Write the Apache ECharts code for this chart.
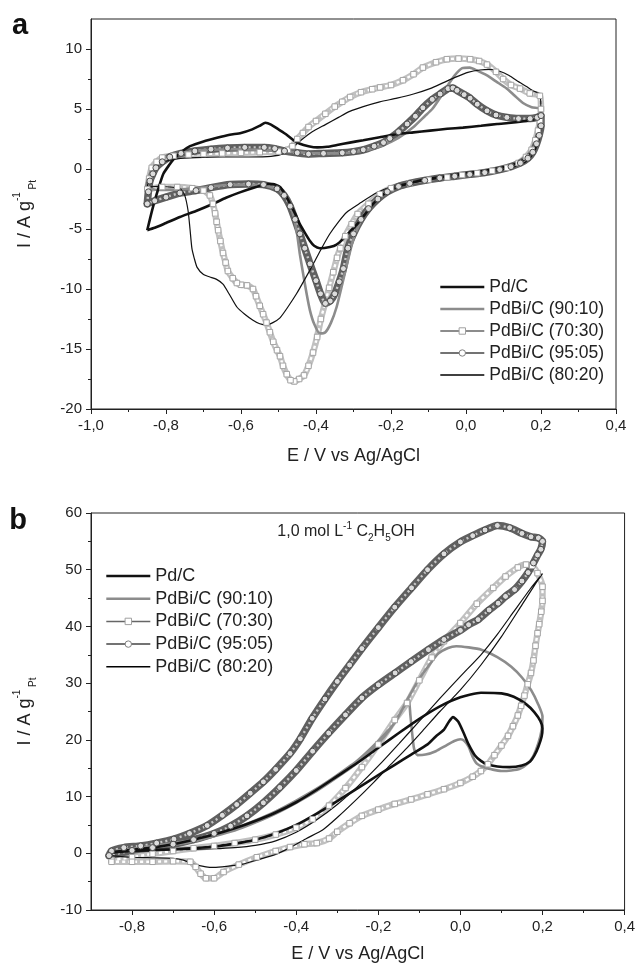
<!DOCTYPE html>
<html><head><meta charset="utf-8">
<script src="https://cdn.jsdelivr.net/npm/echarts@6/dist/echarts.min.js"></script>
<style>html,body{margin:0;padding:0;background:#fff}#c{width:638px;height:965px}</style>
</head><body><div id="c"></div>
<script>
const FONT = "'Liberation Sans', Arial, Helvetica, sans-serif";
const NAMES = ['Pd/C', 'PdBi/C (90:10)', 'PdBi/C (70:30)', 'PdBi/C (95:05)', 'PdBi/C (80:20)'];

// tick values
const A_X_MAJOR = [-1.0, -0.8, -0.6, -0.4, -0.2, 0.0, 0.2, 0.4];
const A_X_MINOR = [-0.9, -0.7, -0.5, -0.3, -0.1, 0.1, 0.3];
const A_Y_MAJOR = [-20, -15, -10, -5, 0, 5, 10];
const A_Y_MINOR = [-17.5, -12.5, -7.5, -2.5, 2.5, 7.5];
const B_X_MAJOR = [-0.8, -0.6, -0.4, -0.2, 0.0, 0.2, 0.4];
const B_X_MINOR = [-0.7, -0.5, -0.3, -0.1, 0.1, 0.3];
const B_Y_MAJOR = [-10, 0, 10, 20, 30, 40, 50, 60];
const B_Y_MINOR = [-5, 5, 15, 25, 35, 45, 55];

// ---------- panel a : [E (V), I (A/g)] ----------
const A_PDC = [[-0.85,-5.1],[-0.835,-3.2],[-0.82,-1.6],[-0.807,-0.4],[-0.79,0.4],[-0.78,0.8],[-0.76,1.4],[-0.736,1.9],[-0.7,2.3],[-0.664,2.6],[-0.63,2.85],[-0.6,3.0],[-0.57,3.3],[-0.55,3.6],[-0.535,3.85],[-0.52,3.7],[-0.5,3.3],[-0.48,2.9],[-0.46,2.4],[-0.443,2.1],[-0.42,1.9],[-0.397,1.8],[-0.37,1.85],[-0.344,2.0],[-0.31,2.2],[-0.274,2.4],[-0.23,2.65],[-0.184,2.9],[-0.14,3.05],[-0.096,3.2],[-0.05,3.35],[-0.008,3.45],[0.04,3.6],[0.083,3.75],[0.12,3.85],[0.16,4.0],[0.19,4.2],[0.2,4.4],
 [0.197,3.0],[0.19,2.2],[0.18,1.6],[0.16,0.9],[0.144,0.6],[0.12,0.3],[0.083,0.05],[0.04,-0.2],[-0.008,-0.4],[-0.05,-0.6],[-0.096,-0.8],[-0.14,-1.1],[-0.184,-1.5],[-0.22,-2.1],[-0.248,-2.9],[-0.27,-3.8],[-0.29,-4.6],[-0.309,-5.2],[-0.327,-5.8],[-0.345,-6.3],[-0.363,-6.5],[-0.39,-6.6],[-0.405,-6.4],[-0.416,-6.0],[-0.43,-5.3],[-0.443,-4.6],[-0.456,-3.7],[-0.469,-2.9],[-0.483,-2.1],[-0.496,-1.5],[-0.515,-1.25],[-0.532,-1.25],[-0.56,-1.5],[-0.603,-1.95],[-0.64,-2.4],[-0.674,-2.9],[-0.72,-3.5],[-0.763,-4.0],[-0.8,-4.5],[-0.83,-4.9],[-0.85,-5.1]];

const A_9010 = [[-0.85,-1.6],[-0.845,-0.6],[-0.835,0.2],[-0.82,0.7],[-0.8,1.0],[-0.76,1.3],[-0.72,1.5],[-0.68,1.6],[-0.62,1.65],[-0.56,1.6],[-0.5,1.5],[-0.45,1.4],[-0.4,1.3],[-0.35,1.3],[-0.3,1.4],[-0.26,1.6],[-0.22,2.0],[-0.18,2.6],[-0.14,3.5],[-0.11,4.4],[-0.09,5.0],[-0.07,5.9],[-0.05,6.9],[-0.03,7.8],[-0.01,8.4],[0.01,8.45],[0.03,8.2],[0.056,7.8],[0.08,7.3],[0.109,6.7],[0.13,6.1],[0.152,5.5],[0.175,5.15],[0.2,5.0],
 [0.2,4.0],[0.195,3.0],[0.185,2.0],[0.17,1.2],[0.15,0.6],[0.12,0.25],[0.08,0.0],[0.04,-0.2],[0.0,-0.45],[-0.05,-0.65],[-0.1,-0.9],[-0.15,-1.2],[-0.2,-1.7],[-0.235,-2.4],[-0.26,-3.2],[-0.28,-4.3],[-0.3,-5.8],[-0.318,-8.0],[-0.33,-9.6],[-0.345,-11.5],[-0.36,-12.8],[-0.375,-13.6],[-0.39,-13.7],[-0.405,-12.9],[-0.416,-11.8],[-0.425,-10.4],[-0.435,-8.6],[-0.443,-7.1],[-0.451,-5.3],[-0.46,-3.9],[-0.475,-2.6],[-0.5,-1.75],[-0.54,-1.35],[-0.6,-1.3],[-0.65,-1.35],[-0.7,-1.55],[-0.76,-1.7],[-0.82,-1.75],[-0.85,-1.6]];

const A_7030 = [[-0.85,-1.7],[-0.845,-0.8],[-0.838,0.1],[-0.825,0.6],[-0.81,0.95],[-0.78,1.1],[-0.74,1.2],[-0.7,1.25],[-0.65,1.3],[-0.6,1.35],[-0.55,1.4],[-0.5,1.45],[-0.475,1.6],[-0.463,1.9],[-0.45,2.5],[-0.435,3.0],[-0.42,3.5],[-0.4,4.0],[-0.375,4.6],[-0.35,5.2],[-0.33,5.6],[-0.309,6.0],[-0.28,6.4],[-0.25,6.65],[-0.229,6.8],[-0.2,7.0],[-0.168,7.4],[-0.14,7.9],[-0.115,8.45],[-0.08,8.9],[-0.051,9.15],[-0.02,9.2],[0.011,9.15],[0.035,9.0],[0.056,8.7],[0.08,8.1],[0.099,7.5],[0.12,7.0],[0.144,6.7],[0.17,6.3],[0.197,6.1],
 [0.2,5.0],[0.197,4.0],[0.192,3.2],[0.185,2.4],[0.175,1.6],[0.16,1.0],[0.14,0.5],[0.11,0.1],[0.07,-0.15],[0.03,-0.35],[-0.01,-0.5],[-0.05,-0.7],[-0.1,-0.9],[-0.15,-1.2],[-0.2,-1.6],[-0.23,-2.1],[-0.26,-2.9],[-0.289,-3.75],[-0.305,-4.6],[-0.322,-5.6],[-0.335,-6.6],[-0.344,-7.4],[-0.354,-8.6],[-0.365,-9.9],[-0.376,-11.2],[-0.387,-12.5],[-0.397,-14.0],[-0.408,-15.3],[-0.42,-16.4],[-0.432,-17.2],[-0.445,-17.5],[-0.458,-17.7],[-0.468,-17.6],[-0.478,-17.1],[-0.488,-16.4],[-0.496,-15.6],[-0.504,-15.1],[-0.514,-14.4],[-0.523,-13.6],[-0.532,-12.8],[-0.541,-12.1],[-0.55,-11.4],[-0.56,-10.6],[-0.568,-10.0],[-0.584,-9.7],[-0.6,-9.65],[-0.611,-9.5],[-0.622,-9.1],[-0.635,-8.5],[-0.641,-7.8],[-0.648,-7.0],[-0.655,-6.0],[-0.661,-5.1],[-0.665,-4.4],[-0.669,-3.7],[-0.675,-2.9],[-0.683,-2.2],[-0.7,-1.8],[-0.73,-1.6],[-0.77,-1.5],[-0.81,-1.5],[-0.85,-1.7]];

const A_9505 = [[-0.85,-2.9],[-0.847,-1.9],[-0.843,-1.0],[-0.835,-0.4],[-0.827,0.1],[-0.81,0.6],[-0.79,1.0],[-0.76,1.3],[-0.723,1.5],[-0.68,1.65],[-0.636,1.75],[-0.59,1.8],[-0.538,1.8],[-0.51,1.7],[-0.484,1.5],[-0.45,1.35],[-0.42,1.25],[-0.38,1.3],[-0.33,1.35],[-0.3,1.45],[-0.274,1.6],[-0.245,1.9],[-0.22,2.2],[-0.203,2.55],[-0.18,3.1],[-0.157,3.75],[-0.135,4.4],[-0.115,5.1],[-0.09,5.8],[-0.069,6.25],[-0.048,6.7],[-0.035,6.75],[-0.024,6.55],[-0.005,6.2],[0.011,5.9],[0.03,5.4],[0.056,4.85],[0.08,4.5],[0.109,4.3],[0.14,4.2],[0.171,4.2],[0.19,4.3],[0.2,4.45],
 [0.2,3.6],[0.195,2.8],[0.188,2.1],[0.178,1.4],[0.165,0.9],[0.145,0.5],[0.12,0.2],[0.09,-0.05],[0.05,-0.3],[0.01,-0.45],[-0.03,-0.6],[-0.07,-0.75],[-0.11,-0.95],[-0.15,-1.2],[-0.18,-1.45],[-0.21,-1.9],[-0.235,-2.5],[-0.26,-3.3],[-0.28,-4.2],[-0.3,-5.4],[-0.315,-6.6],[-0.327,-8.3],[-0.338,-9.4],[-0.35,-10.4],[-0.362,-11.0],[-0.375,-11.2],[-0.388,-10.4],[-0.4,-9.3],[-0.416,-7.9],[-0.43,-6.6],[-0.443,-5.4],[-0.456,-4.2],[-0.469,-3.1],[-0.485,-2.2],[-0.504,-1.65],[-0.54,-1.3],[-0.58,-1.25],[-0.629,-1.3],[-0.68,-1.55],[-0.72,-1.8],[-0.763,-2.0],[-0.8,-2.35],[-0.83,-2.65],[-0.85,-2.9]];

const A_8020 = [[-0.85,-1.5],[-0.845,-0.8],[-0.835,-0.2],[-0.82,0.3],[-0.8,0.65],[-0.77,0.85],[-0.72,0.95],[-0.65,1.0],[-0.58,1.0],[-0.52,1.05],[-0.485,1.3],[-0.463,1.8],[-0.44,2.4],[-0.41,3.1],[-0.375,3.7],[-0.34,4.3],[-0.31,4.8],[-0.274,5.2],[-0.23,5.6],[-0.184,5.9],[-0.14,6.25],[-0.096,6.7],[-0.06,7.2],[-0.024,7.7],[0.005,8.05],[0.037,8.25],[0.065,8.3],[0.09,8.15],[0.115,7.8],[0.136,7.35],[0.16,6.9],[0.18,6.5],[0.197,6.25],
 [0.2,4.5],[0.197,3.0],[0.19,2.0],[0.178,1.2],[0.16,0.6],[0.13,0.2],[0.09,-0.1],[0.05,-0.3],[0.0,-0.5],[-0.05,-0.7],[-0.1,-0.9],[-0.15,-1.15],[-0.2,-1.5],[-0.24,-2.0],[-0.28,-2.8],[-0.318,-3.6],[-0.34,-4.4],[-0.363,-5.4],[-0.385,-6.6],[-0.407,-7.9],[-0.43,-9.2],[-0.452,-10.4],[-0.475,-11.5],[-0.496,-12.4],[-0.515,-12.8],[-0.532,-13.0],[-0.55,-12.9],[-0.568,-12.6],[-0.59,-12.1],[-0.611,-11.5],[-0.63,-10.5],[-0.648,-9.6],[-0.665,-9.2],[-0.683,-9.0],[-0.7,-8.8],[-0.717,-8.2],[-0.725,-7.4],[-0.731,-6.6],[-0.736,-5.0],[-0.741,-3.5],[-0.75,-2.2],[-0.763,-1.6],[-0.79,-1.5],[-0.82,-1.45],[-0.85,-1.5]];

// ---------- panel b : 1,0 mol/L ethanol ----------
const B_PDC = [[-0.85,0.2],[-0.8,0.6],[-0.75,1.0],[-0.7,1.6],[-0.65,2.4],[-0.6,3.3],[-0.55,4.4],[-0.5,5.7],[-0.45,7.2],[-0.4,9.0],[-0.35,11.2],[-0.3,13.6],[-0.25,16.0],[-0.2,18.6],[-0.15,21.2],[-0.1,23.7],[-0.05,25.9],[0.0,27.5],[0.05,28.3],[0.1,28.2],[0.13,27.6],[0.16,26.3],[0.18,24.9],[0.195,23.3],[0.2,22.0],
 [0.198,20.6],[0.19,18.8],[0.18,17.2],[0.17,16.2],[0.15,15.5],[0.12,15.2],[0.09,15.3],[0.065,15.7],[0.05,16.3],[0.035,17.3],[0.02,19.2],[0.008,21.2],[-0.005,23.2],[-0.018,24.0],[-0.028,23.2],[-0.04,21.8],[-0.06,20.6],[-0.08,19.2],[-0.12,17.4],[-0.16,15.6],[-0.2,13.8],[-0.25,11.5],[-0.3,9.2],[-0.35,7.0],[-0.4,5.0],[-0.45,3.5],[-0.5,2.4],[-0.55,1.7],[-0.6,1.2],[-0.7,0.7],[-0.8,0.4],[-0.85,0.1]];

const B_9010 = [[-0.85,0.3],[-0.8,0.8],[-0.75,1.3],[-0.7,1.8],[-0.65,2.4],[-0.6,3.3],[-0.55,4.4],[-0.5,5.8],[-0.45,7.4],[-0.4,9.3],[-0.35,11.4],[-0.3,13.8],[-0.25,16.4],[-0.2,19.8],[-0.16,23.0],[-0.127,27.4],[-0.1,30.8],[-0.08,32.8],[-0.054,35.2],[-0.03,36.2],[-0.01,36.5],[0.02,36.3],[0.051,35.9],[0.09,34.6],[0.124,32.9],[0.15,31.0],[0.172,28.8],[0.19,26.2],[0.2,24.1],
 [0.198,21.8],[0.19,19.4],[0.178,17.2],[0.164,15.8],[0.145,14.9],[0.124,14.6],[0.1,14.5],[0.076,14.8],[0.055,15.2],[0.04,15.8],[0.03,17.0],[0.02,18.8],[0.01,19.8],[0.0,20.1],[-0.015,19.8],[-0.035,19.0],[-0.06,18.0],[-0.085,17.4],[-0.105,17.3],[-0.113,18.5],[-0.118,21.5],[-0.122,24.5],[-0.126,27.2],[-0.14,25.5],[-0.17,22.0],[-0.2,19.4],[-0.25,16.0],[-0.3,13.4],[-0.35,11.0],[-0.4,8.9],[-0.45,7.0],[-0.5,5.4],[-0.55,4.0],[-0.6,3.0],[-0.65,2.1],[-0.7,1.5],[-0.75,1.0],[-0.8,0.5],[-0.85,0.1]];

const B_7030 = [[-0.85,-1.2],[-0.8,-0.7],[-0.75,-0.1],[-0.7,0.4],[-0.65,0.9],[-0.6,1.3],[-0.55,1.8],[-0.5,2.4],[-0.45,3.3],[-0.4,4.5],[-0.36,6.0],[-0.32,8.4],[-0.28,11.5],[-0.24,15.2],[-0.2,19.2],[-0.16,23.5],[-0.13,26.5],[-0.1,30.5],[-0.07,34.5],[-0.04,37.4],[0.0,40.6],[0.04,44.0],[0.08,46.8],[0.11,48.8],[0.14,50.4],[0.16,50.9],[0.175,50.7],[0.188,49.4],[0.2,47.0],
 [0.2,44.5],[0.197,42.6],[0.192,40.4],[0.188,38.8],[0.183,36.6],[0.178,34.0],[0.172,31.8],[0.164,29.8],[0.156,27.8],[0.148,26.0],[0.14,24.3],[0.128,22.4],[0.116,20.7],[0.1,19.0],[0.083,17.3],[0.067,15.7],[0.05,14.5],[0.03,13.5],[0.0,12.4],[-0.04,11.3],[-0.08,10.4],[-0.12,9.5],[-0.16,8.7],[-0.2,7.7],[-0.24,6.6],[-0.27,5.3],[-0.3,3.8],[-0.32,2.6],[-0.35,1.8],[-0.38,1.6],[-0.415,1.1],[-0.45,0.4],[-0.496,-0.7],[-0.54,-2.0],[-0.577,-3.3],[-0.6,-4.4],[-0.62,-4.4],[-0.633,-3.6],[-0.645,-2.4],[-0.658,-1.5],[-0.7,-1.4],[-0.75,-1.5],[-0.8,-1.5],[-0.85,-1.5]];

const B_9505 = [[-0.856,-0.4],[-0.85,0.4],[-0.82,1.0],[-0.779,1.3],[-0.74,1.8],[-0.698,2.5],[-0.66,3.5],[-0.617,4.9],[-0.58,6.7],[-0.545,8.6],[-0.512,10.6],[-0.48,12.6],[-0.45,14.8],[-0.415,17.6],[-0.39,20.2],[-0.361,23.8],[-0.33,27.2],[-0.3,30.3],[-0.27,33.2],[-0.24,36.1],[-0.2,39.8],[-0.16,43.4],[-0.119,46.8],[-0.08,50.0],[-0.04,52.8],[0.0,54.9],[0.03,56.0],[0.06,57.0],[0.09,57.8],[0.12,57.4],[0.15,56.4],[0.172,55.8],[0.19,55.6],[0.2,55.0],
 [0.196,53.6],[0.188,52.6],[0.178,51.2],[0.165,49.5],[0.15,48.0],[0.132,46.5],[0.11,45.3],[0.092,44.1],[0.07,42.9],[0.043,41.2],[0.02,40.3],[0.0,39.3],[-0.04,37.7],[-0.078,35.9],[-0.12,33.8],[-0.159,31.8],[-0.2,29.7],[-0.24,27.4],[-0.28,24.4],[-0.321,21.2],[-0.36,18.0],[-0.4,14.6],[-0.44,11.6],[-0.48,8.9],[-0.52,6.6],[-0.56,4.8],[-0.6,3.5],[-0.65,2.4],[-0.7,1.6],[-0.75,1.0],[-0.8,0.5],[-0.856,-0.4]];

const B_8020 = [[-0.85,-0.4],[-0.8,-0.7],[-0.75,-0.8],[-0.7,-0.9],[-0.675,-1.2],[-0.65,-1.9],[-0.62,-2.4],[-0.6,-2.5],[-0.57,-2.3],[-0.53,-1.9],[-0.496,-1.2],[-0.45,-0.2],[-0.415,1.0],[-0.375,2.6],[-0.334,4.2],[-0.3,6.3],[-0.253,9.5],[-0.21,12.6],[-0.173,15.4],[-0.13,18.6],[-0.092,21.6],[-0.05,25.0],[0.0,28.8],[0.05,33.2],[0.1,38.2],[0.15,43.8],[0.18,47.2],[0.2,49.3],
 [0.17,46.6],[0.13,42.6],[0.09,38.6],[0.05,35.0],[0.0,31.2],[-0.05,27.3],[-0.1,23.3],[-0.15,19.3],[-0.2,15.4],[-0.25,11.8],[-0.3,8.6],[-0.35,5.9],[-0.4,3.7],[-0.45,2.2],[-0.5,1.4],[-0.55,1.0],[-0.6,0.8],[-0.7,0.6],[-0.8,0.4],[-0.85,0.2]];

// ---------- helpers ----------
const fmtE = v => v.toFixed(1).replace('.', ',');
const INK = '#222';
const txt = (size) => ({fontFamily: FONT, fontSize: size, color: INK});

function xAxes(gi, min, max, major, minor, gap) {
  return [
    {type:'value', gridIndex:gi, position:'bottom', min, max,
     name:'E / V vs Ag/AgCl', nameLocation:'middle', nameGap:gap, nameTextStyle:txt(18),
     axisLine:{show:true, onZero:false, lineStyle:{color:INK, width:1}},
     axisTick:{show:true, length:5, customValues:major, lineStyle:{color:INK, width:1}},
     axisLabel:{show:true, customValues:major, margin:9, ...txt(15), formatter:fmtE},
     splitLine:{show:false}},
    {type:'value', gridIndex:gi, position:'bottom', min, max,
     axisLine:{show:false, onZero:false},
     axisTick:{show:true, length:3, customValues:minor, lineStyle:{color:INK, width:1}},
     axisLabel:{show:false}, splitLine:{show:false}}
  ];
}
function yAxes(gi, min, max, major, minor) {
  const rich = {
    m:{fontFamily:FONT, fontSize:18, color:INK, lineHeight:26},
    sp:{fontFamily:FONT, fontSize:10, color:INK, lineHeight:12, verticalAlign:'top'},
    sb:{fontFamily:FONT, fontSize:10, color:INK, lineHeight:12, verticalAlign:'bottom'}
  };
  return [
    {type:'value', gridIndex:gi, position:'left', min, max,
     name:'{m|I / A g}{sp|-1}{sb| Pt}', nameLocation:'middle', nameGap:53,
     nameTextStyle:{...txt(18), rich},
     axisLine:{show:true, onZero:false, lineStyle:{color:INK, width:1}},
     axisTick:{show:true, length:5, customValues:major, lineStyle:{color:INK, width:1}},
     axisLabel:{show:true, customValues:major, margin:9, ...txt(15), formatter:v => String(v)},
     splitLine:{show:false}},
    {type:'value', gridIndex:gi, position:'left', min, max,
     axisLine:{show:false, onZero:false},
     axisTick:{show:true, length:3, customValues:minor, lineStyle:{color:INK, width:1}},
     axisLabel:{show:false}, splitLine:{show:false}}
  ];
}

function panelSeries(xi, yi, pdc, s9010, s7030, s9505, s8020) {
  const base = {type:'line', xAxisIndex:xi, yAxisIndex:yi, smooth:0.2, animation:false, emphasis:{disabled:true}};
  return [
    {...base, data:s7030, symbol:'none', silent:true, lineStyle:{color:'#c0c0c0', width:6.5, cap:'round', join:'round'}},
    {...base, data:s7030, symbol:'none', silent:true, lineStyle:{color:'#ffffff', width:2.4, type:[3,3]}},
    {...base, data:s9505, symbol:'none', silent:true, lineStyle:{color:'#606060', width:7.5, cap:'round', join:'round'}},
    {...base, data:s9505, symbol:'none', silent:true, lineStyle:{color:'#c8c8c8', width:2.4, type:[2,3]}},
    {...base, name:NAMES[1], data:s9010, symbol:'none', lineStyle:{color:'#8c8c8c', width:2.6}},
    {...base, name:NAMES[4], data:s8020, symbol:'none', lineStyle:{color:'#111', width:1.2}},
    {...base, name:NAMES[0], data:pdc, symbol:'none', lineStyle:{color:'#111', width:2.6}},
    {...base, name:NAMES[2], data:s7030, symbol:'rect', symbolSize:5.5, showSymbol:true,
     itemStyle:{color:'#ffffff', borderColor:'#a4a4a4', borderWidth:1}, lineStyle:{opacity:0}},
    {...base, name:NAMES[3], data:s9505, symbol:'circle', symbolSize:6, showSymbol:true,
     itemStyle:{color:'#dcdcdc', borderColor:'#4a4a4a', borderWidth:1}, lineStyle:{opacity:0}}
  ];
}

const LEGEND_STYLE = [
  {itemStyle:{opacity:0}, lineStyle:{color:'#111', width:2.6, opacity:1}},
  {itemStyle:{opacity:0}, lineStyle:{color:'#8c8c8c', width:2.6, opacity:1}},
  {itemStyle:{color:'#fff', borderColor:'#a0a0a0', borderWidth:1, opacity:1}, lineStyle:{color:'#666', width:1.5, opacity:1}},
  {itemStyle:{color:'#fff', borderColor:'#808080', borderWidth:1, opacity:1}, lineStyle:{color:'#444', width:1.5, opacity:1}},
  {itemStyle:{opacity:0}, lineStyle:{color:'#000', width:1.4, opacity:1}}
];
const legendData = NAMES.map((n, i) => ({name:n, ...LEGEND_STYLE[i]}));

function legend(left, top, size, gap) {
  return {orient:'vertical', left, top, padding:0, itemWidth:44, itemHeight:8, itemGap:gap,
    selectedMode:false, data:legendData,
    textStyle:{fontFamily:FONT, fontSize:size, color:INK, lineHeight:20}};
}

const chart = echarts.init(document.getElementById('c'), null, {renderer:'canvas'});
chart.setOption({
  animation:false,
  backgroundColor:'#fff',
  grid:[
    {left:91, top:19, width:525, height:390, show:true, borderColor:INK, borderWidth:1, backgroundColor:'transparent'},
    {left:91, top:513, width:537, height:397, show:true, borderColor:INK, borderWidth:1, backgroundColor:'transparent'}
  ],
  xAxis:[...xAxes(0, -1.0, 0.4, A_X_MAJOR, A_X_MINOR, 38), ...xAxes(1, -0.9, 0.4, B_X_MAJOR, B_X_MINOR, 35)],
  yAxis:[...yAxes(0, -20, 12.5, A_Y_MAJOR, A_Y_MINOR), ...yAxes(1, -10, 60, B_Y_MAJOR, B_Y_MINOR)],
  legend:[legend(439, 277, 17.5, 2), legend(105, 566, 18, 2.7)],
  series:[
    ...panelSeries(0, 0, A_PDC, A_9010, A_7030, A_9505, A_8020),
    ...panelSeries(2, 2, B_PDC, B_9010, B_7030, B_9505, B_8020)
  ],
  graphic:[
    {type:'text', x:20, y:26, style:{text:'a', font:"bold 29px 'Liberation Sans', Arial, sans-serif", fill:'#111', align:'center', verticalAlign:'middle'}},
    {type:'text', x:18, y:521, style:{text:'b', font:"bold 29px 'Liberation Sans', Arial, sans-serif", fill:'#111', align:'center', verticalAlign:'middle'}},
    {type:'text', x:346, y:532, style:{
      text:'{m|1,0 mol L}{sp|-1}{m| C}{sb|2}{m|H}{sb|5}{m|OH}',
      align:'center', verticalAlign:'middle',
      rich:{
        m:{fontFamily:FONT, fontSize:16, fill:INK, lineHeight:22},
        sp:{fontFamily:FONT, fontSize:10, fill:INK, lineHeight:12, verticalAlign:'top'},
        sb:{fontFamily:FONT, fontSize:10, fill:INK, lineHeight:12, verticalAlign:'bottom'}
      }}}
  ]
});
</script></body></html>
